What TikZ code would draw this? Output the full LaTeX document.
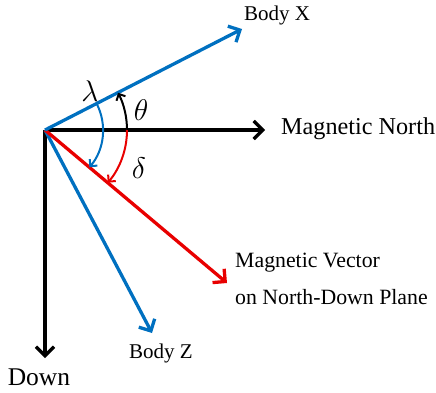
\documentclass[tikz,border=0pt]{standalone}
\usepackage{fontspec}
\setmainfont{Liberation Serif}
\usetikzlibrary{arrows.meta}
\definecolor{bblue}{RGB}{0,112,192}
\definecolor{rred}{RGB}{232,0,0}
\newcommand{\bigsym}[1]{\scalebox{1.2}{$#1$}}
\tikzset{
  vec/.style={line width=3.3pt, -{Straight Barb[length=9pt,width=18pt,line width=3.3pt]}},
  arcarrow/.style={line width=2pt, -{Straight Barb[length=5pt,width=10pt,line width=2pt]}},
  lbl/.style={inner sep=0pt, font=\fontsize{21}{25}\selectfont},
  vlbl/.style={inner sep=0pt, font=\fontsize{21.8}{25}\selectfont},
  biglbl/.style={inner sep=0pt, font=\fontsize{24.2}{28}\selectfont},
  greek/.style={inner sep=0pt, font=\fontsize{24}{28}\selectfont}
}
\begin{document}
\begin{tikzpicture}[x=1pt,y=1pt]
\useasboundingbox (0,0) rectangle (436,392);
\coordinate (O) at (45,262);
\coordinate (bx) at (242,363);
\coordinate (mn) at (265,262);
\coordinate (mv) at (227,109);
\coordinate (bz) at (152,59);
\coordinate (dn) at (45,34);
% vectors
\draw[vec, black] (O) -- (mn);
\draw[vec, black] (O) -- (dn);
\draw[vec, bblue] (O) -- (bz);
\draw[vec, rred] (O) -- (mv);
\draw[vec, bblue] (O) -- (bx);
% angle arcs
\draw[arcarrow, black] ([shift={(0:82)}]O) arc[start angle=0, end angle=27, radius=82];
\draw[arcarrow, rred] ([shift={(0:82)}]O) arc[start angle=0, end angle=-40, radius=82];
\draw[arcarrow, bblue] ([shift={(27:58)}]O) arc[start angle=27, end angle=-40, radius=58];
% labels
\node[greek] (lam) at (90,301) {\bigsym{\lambda}};
\node[greek] (th) at (141,282) {\bigsym{\theta}};
\node[greek] (de) at (139,224) {\bigsym{\delta}};
\node[lbl] (lbx) at (277,377) {Body X};
\node[biglbl, anchor=west] (lmn) at (281,263) {Magnetic North};
\node[vlbl, anchor=west] (lmv1) at (235,129) {Magnetic Vector};
\node[vlbl, anchor=west] (lmv2) at (235,95) {on North-Down Plane};
\node[lbl] (lbz) at (161,39) {Body Z};
\node[biglbl, font=\fontsize{25.5}{29}\selectfont] (ldn) at (39,15) {Down};
\end{tikzpicture}
\end{document}
